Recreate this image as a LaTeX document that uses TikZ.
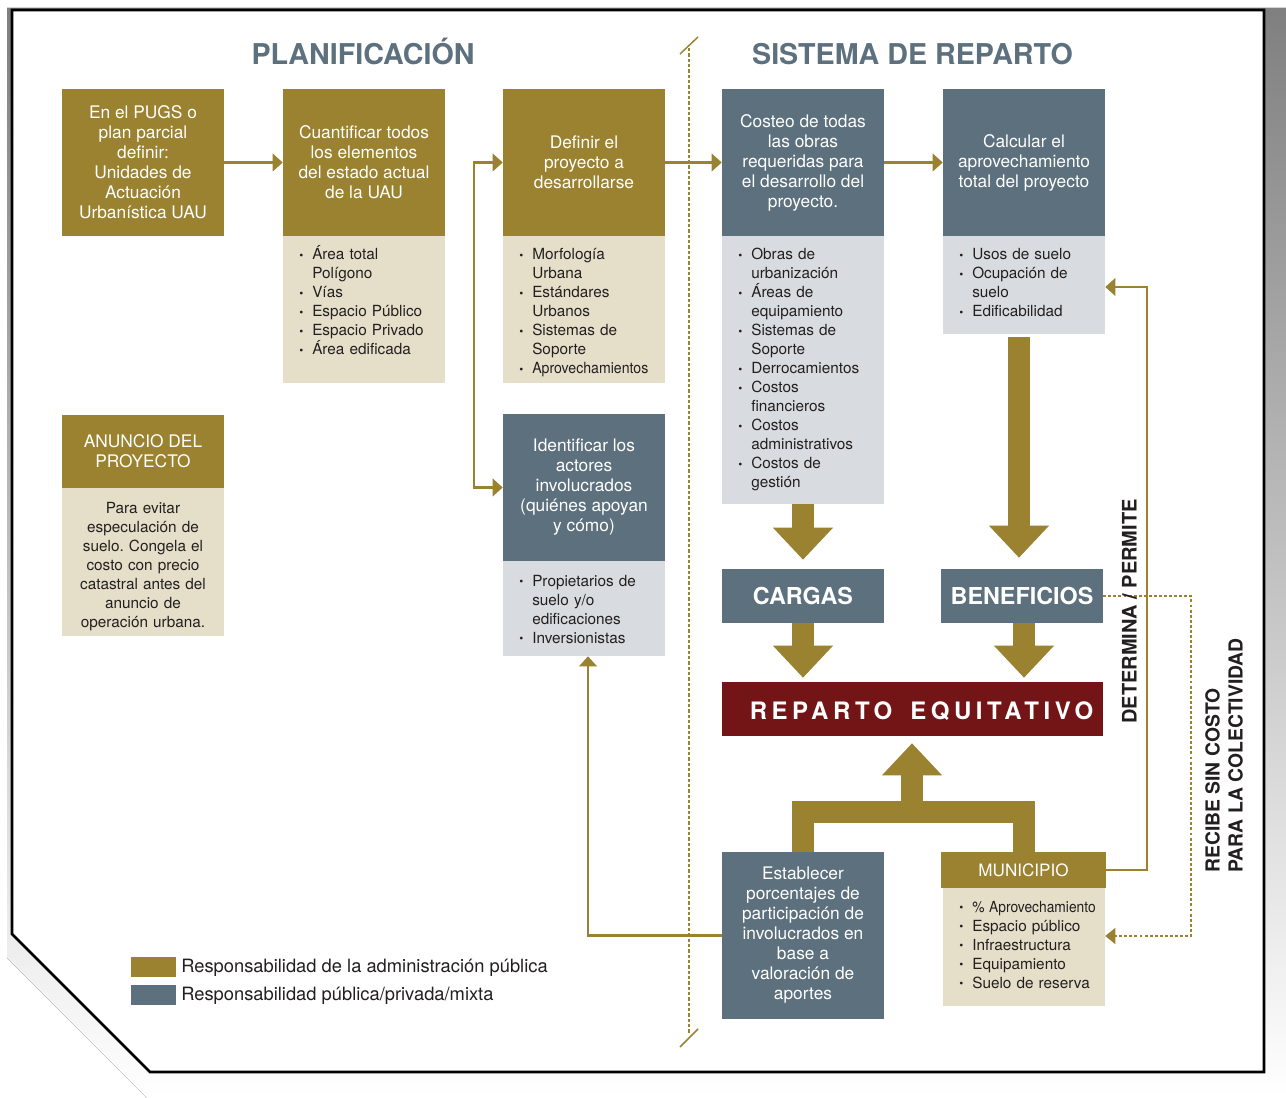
\documentclass[tikz,border=0pt]{standalone}
\usepackage{fontspec}
\setmainfont{TeX Gyre Heros}
\usetikzlibrary{arrows.meta}
\definecolor{gold}{RGB}{155,130,48}
\definecolor{slate}{RGB}{93,112,125}
\definecolor{beige}{RGB}{229,223,201}
\definecolor{lgray}{RGB}{216,220,224}
\definecolor{repred}{RGB}{115,20,22}
\definecolor{shade}{RGB}{210,211,213}
\definecolor{ink}{RGB}{35,31,32}
\newcommand\bitem[1]{\hangindent=9.75pt\hangafter=1\noindent\makebox[9.75pt][l]{\raisebox{0.1ex}{\scalebox{0.75}{\textbullet}}}#1\par}
\newcommand\cond[2]{\scalebox{#1}[1]{#2}}
\frenchspacing
\begin{document}
\begin{tikzpicture}[x=0.75pt,y=-0.75pt,
  hbox/.style={inner sep=0pt, minimum width=121.5pt, align=center, text=white, font=\fontsize{13}{15}\selectfont},
  gh/.style={hbox, fill=gold},
  sh/.style={hbox, fill=slate},
  bb/.style={inner sep=0pt, minimum width=121.5pt, fill=beige},
  lb/.style={inner sep=0pt, minimum width=121.5pt, fill=lgray},
  lst/.style={anchor=base west, inner sep=0pt, text width=110pt, align=left, font=\fontsize{11.5}{14.25}\selectfont, text=ink},
  ttl/.style={anchor=base, inner sep=0pt, text=slate, font=\fontsize{21.5}{24}\selectfont\bfseries},
  big/.style={inner sep=0pt, text=white, font=\fontsize{17.5}{20}\selectfont\bfseries},
  thinarr/.style={draw=gold, line width=2.2pt, -{Triangle[length=7.5pt,width=13pt]}},
  dotarr/.style={draw=gold, line width=1.1pt, dash pattern=on 2.2pt off 1.6pt, -{Triangle[length=7.5pt,width=12pt]}},
  bigarr/.style={draw=gold, line width=16.5pt, -{Triangle[length=24pt,width=43.5pt]}},
  bigline/.style={draw=gold, line width=16.5pt, line join=miter},
]
\useasboundingbox (0,0) rectangle (1286,1098);
% frame and shadow
\fill[shade] (7,8) -- (1286,8) -- (1286,1098) -- (147,1098) -- (7,958) -- cycle;
\draw[line width=2pt, fill=white] (12,10) -- (1264,10) -- (1264,1072) -- (150,1072) -- (12,934) -- cycle;
% divider
\draw[gold, line width=1.6pt, dash pattern=on 2.4pt off 1.6pt] (689,48) -- (689,1033);
\draw[gold, line width=1.1pt] (680,54) -- (698,37);
\draw[gold, line width=1.1pt] (680,1047) -- (698,1029);
% titles
\node[ttl] (t1) at (363,65) {PLANIFICACIÓN};
\node[ttl] (t2) at (912.5,65) {SISTEMA DE REPARTO};
% box 1
\node[gh, minimum height=110.25pt] (b1) at (143,162.5) {En el PUGS o\\plan parcial\\definir:\\Unidades de\\Actuación\\Urbanística UAU};
% box 2
\node[gh, minimum height=110.25pt] (b2) at (364,162.5) {Cuantificar todos\\los elementos\\del estado actual\\de la UAU};
\node[bb, minimum height=110.25pt] (b2b) at (364,309.5) {};
\node[lst] (b2t) at (299,260) {\bitem{Área total\newline Polígono}\bitem{Vías}\bitem{Espacio Público}\bitem{Espacio Privado}\bitem{Área edificada}};
% box 3
\node[gh, minimum height=110.25pt] (b3) at (584,162.5) {Definir el\\proyecto a\\desarrollarse};
\node[bb, minimum height=110.25pt] (b3b) at (584,309.5) {};
\node[lst] (b3t) at (519,260) {\bitem{Morfología\newline Urbana}\bitem{Estándares\newline Urbanos}\bitem{Sistemas de\newline Soporte}\bitem{\cond{0.92}{Aprovechamientos}}};
% box 4
\node[sh, minimum height=110.25pt] (b4) at (803,162.5) {Costeo de todas\\las obras\\requeridas para\\el desarrollo del\\proyecto.};
\node[lb, minimum height=201pt] (b4b) at (803,370) {};
\node[lst] (b4t) at (738,260) {\bitem{Obras de\newline urbanización}\bitem{Áreas de\newline equipamiento}\bitem{Sistemas de\newline Soporte}\bitem{Derrocamientos}\bitem{Costos\newline financieros}\bitem{Costos\newline administrativos}\bitem{Costos de\newline gestión}};
% box 5
\node[sh, minimum height=110.25pt] (b5) at (1024,162.5) {Calcular el\\aprovechamiento\\total del proyecto};
\node[lb, minimum height=73.5pt] (b5b) at (1024,285) {};
\node[lst] (b5t) at (959,260) {\bitem{Usos de suelo}\bitem{Ocupación de\newline suelo}\bitem{Edificabilidad}};
% anuncio
\node[gh, minimum height=54.75pt] (an) at (143,451.5) {ANUNCIO DEL\\PROYECTO};
\node[bb, minimum height=111pt] (anb) at (143,562) {};
\node[anchor=base, inner sep=0pt, text width=118pt, align=center, text=ink, font=\fontsize{11.5}{14.25}\selectfont] (ant) at (143,513) {Para evitar\\especulación de\\suelo. Congela el\\costo con precio\\catastral antes del\\anuncio de\\operación urbana.};
% identificar
\node[sh, minimum height=110.25pt] (id) at (584,487.5) {Identificar los\\actores\\involucrados\\(quiénes apoyan\\y cómo)};
\node[lb, minimum height=71.25pt] (idb) at (584,608.5) {};
\node[lst] (idt) at (519,586) {\bitem{Propietarios de\newline suelo y/o\newline edificaciones}\bitem{Inversionistas}};
% cargas / beneficios / reparto
\node[big, fill=slate, minimum width=121.5pt, minimum height=40.5pt] (car) at (803,596) {CARGAS};
\node[big, fill=slate, minimum width=121.5pt, minimum height=40.5pt] (ben) at (1022,596) {BENEFICIOS};
\node[fill=repred, inner sep=0pt, minimum width=285.75pt, minimum height=40.5pt] (rep) at (912.5,709) {};
\node[anchor=base, inner sep=0pt, text=white, font=\fontsize{18}{20}\selectfont\bfseries\addfontfeature{LetterSpace=19}] (rept) at (921.5,719.5) {REPARTO\hspace{5pt} EQUITATIVO};
% establecer
\node[sh, minimum height=125.25pt] (est) at (803,935.5) {Establecer\\porcentajes de\\participación de\\involucrados en\\base a\\valoración de\\aportes};
% municipio
\node[gh, minimum width=123.75pt, minimum height=27pt, font=\fontsize{12.8}{15}\selectfont] (mun) at (1023.5,870) {MUNICIPIO};
\node[bb, minimum height=88.5pt] (munb) at (1024,947) {};
\node[lst] (munt) at (959,912) {\bitem{\cond{0.9}{\% Aprovechamiento}}\bitem{Espacio público}\bitem{Infraestructura}\bitem{Equipamiento}\bitem{Suelo de reserva}};
% thin arrows
\draw[thinarr] (b1.east) -- (b2.west);
\draw[thinarr] (b3.east) -- (b4.west);
\draw[thinarr] (b4.east) -- (b5.west);
\coordinate (k1) at (474,487.5);
\coordinate (k2) at (474,162.5);
\draw[thinarr] (k1) |- (b3.west);
\draw[thinarr] (k2) |- (id.west);
\draw[thinarr] (est.west) -| ([xshift=3pt]idb.south);
\draw[thinarr] (mun.east) -| (1147,287) -- ([yshift=-1.5pt]b5b.east);
\draw[dotarr] (ben.east) -| (1191,936) -- ([yshift=8.25pt]munb.east);
% block arrows
\draw[bigarr] (b4b.south) -- ([yshift=6.75pt]car.north);
\draw[bigarr] ([xshift=-3.75pt,yshift=-2.25pt]b5b.south) -- ([xshift=-2.25pt,yshift=8.25pt]ben.north);
\draw[bigarr] (car.south) -- ([yshift=3pt]car.south |- rep.north);
\draw[bigarr] ([xshift=1.5pt]ben.south) -- ([xshift=1.5pt,yshift=3pt]ben.south |- rep.north);
\coordinate (mj) at (912,811.5);
\draw[bigline] (est.north) |- (mj);
\draw[bigline] (mun.north) |- (mj);
\draw[bigarr] (mj) -- ([xshift=-0.375pt,yshift=-5.25pt]rep.south);
% side labels
\node[rotate=90, inner sep=0pt, text=ink, font=\fontsize{15}{17}\selectfont\bfseries] (det) at (1129.5,611.5) {DETERMINA / PERMITE};
\node[rotate=90, anchor=west, align=left, inner sep=0pt, text=ink, font=\fontsize{14.5}{17.25}\selectfont\bfseries] (rec) at (1224,873) {RECIBE SIN COSTO\\PARA LA COLECTIVIDAD};
% legend
\node[fill=gold, inner sep=0pt, minimum width=33.75pt, minimum height=15pt] (lg1) at (153.5,967) {};
\node[fill=slate, inner sep=0pt, minimum width=33.75pt, minimum height=15pt] (lg2) at (153.5,995) {};
\node[anchor=base west, inner sep=0pt, text=ink, font=\fontsize{13.75}{16}\selectfont] (lt1) at (181,972) {Responsabilidad de la administración pública};
\node[anchor=base west, inner sep=0pt, text=ink, font=\fontsize{13.75}{16}\selectfont] (lt2) at (181,1000) {Responsabilidad pública/privada/mixta};
\end{tikzpicture}
\end{document}
